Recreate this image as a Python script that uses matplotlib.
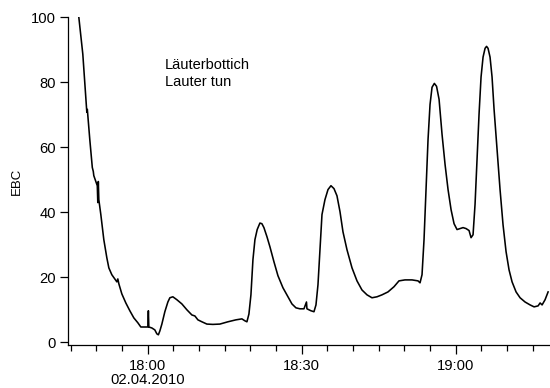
#!/usr/bin/env python3
import datetime as dt

import matplotlib
matplotlib.use('Agg')
import matplotlib.pyplot as plt
import matplotlib.dates as mdates
from matplotlib.ticker import FuncFormatter

plt.rcParams['font.family'] = ['Liberation Sans', 'DejaVu Sans']

# minutes relative to 18:00 on 02.04.2010, EBC values
minutes = [-13.39, -12.61, -11.93, -11.83, -11.73, -11.25, -10.76, -10.57, -10.47, -10.08,
           -9.79, -9.69, -9.59, -9.49, -9.10, -8.52, -7.93, -7.54, -6.96, -6.37,
           -5.98, -5.79, -5.59, -5.01, -4.23, -3.45, -2.67, -1.89, -1.31, -0.53,
           0.06, 0.16, 0.25, 0.84, 1.42, 1.81, 2.11, 2.40, 2.79, 3.37,
           3.96, 4.35, 4.93, 5.71, 6.69, 7.66, 8.64, 9.22, 9.81, 10.59,
           11.56, 12.73, 14.09, 15.65, 17.21, 18.38, 18.97, 19.36, 19.75, 20.14,
           20.53, 20.92, 21.36, 21.89, 22.28, 22.67, 23.26, 23.84, 24.62, 25.40,
           26.37, 27.15, 28.13, 28.91, 29.69, 30.47, 30.96, 31.05, 31.83, 32.42,
           32.81, 33.20, 33.59, 33.98, 34.56, 35.15, 35.73, 36.32, 36.90, 37.49,
           38.07, 38.85, 39.83, 40.80, 41.77, 42.75, 43.72, 44.70, 45.67, 46.84,
           48.01, 48.98, 50.15, 51.52, 52.69, 53.08, 53.47, 53.86, 54.25, 54.64,
           55.03, 55.42, 55.87, 56.30, 56.79, 57.37, 57.96, 58.54, 59.13, 59.71,
           60.29, 60.88, 61.46, 62.05, 62.63, 63.02, 63.41, 63.80, 64.19, 64.58,
           64.97, 65.36, 65.75, 66.04, 66.33, 66.72, 67.11, 67.50, 68.08, 68.67,
           69.25, 69.84, 70.42, 71.01, 71.79, 72.57, 73.54, 74.52, 75.30, 76.08,
           76.47, 76.86, 77.44, 78.03]
ebc = [100.1, 88.7, 73.2, 70.8, 71.7, 62.4, 53.8, 52.6, 51.3, 49.5,
       48.2, 43.0, 49.5, 43.9, 39.3, 31.6, 26.0, 22.9, 20.8, 19.5,
       18.6, 19.5, 18.0, 14.9, 12.1, 9.7, 7.5, 6.0, 4.7, 4.7,
       4.7, 9.7, 4.7, 4.4, 3.8, 2.6, 2.3, 3.5, 5.6, 9.4,
       12.4, 13.7, 14.0, 13.1, 11.8, 10.0, 8.4, 8.1, 6.9, 6.3,
       5.6, 5.5, 5.6, 6.3, 6.9, 7.2, 6.6, 6.3, 8.7, 14.6,
       25.4, 31.6, 34.7, 36.7, 36.5, 35.3, 32.5, 29.4, 24.8, 20.5,
       16.8, 14.6, 11.8, 10.6, 10.3, 10.3, 12.4, 10.3, 9.7, 9.4,
       11.5, 17.7, 28.5, 39.3, 43.9, 47.0, 48.2, 47.3, 45.1, 40.2,
       34.0, 28.5, 22.9, 18.9, 16.1, 14.6, 13.7, 14.0, 14.6, 15.5,
       17.1, 18.9, 19.2, 19.2, 18.9, 18.3, 20.8, 31.6, 47.0, 62.4,
       73.2, 78.5, 79.7, 78.8, 74.8, 64.0, 54.7, 47.0, 40.8, 36.5,
       34.7, 35.0, 35.3, 35.0, 34.4, 32.2, 33.1, 42.5, 56.4, 70.3,
       81.7, 87.8, 90.5, 91.1, 90.5, 87.8, 81.7, 71.8, 59.4, 47.0,
       36.2, 27.9, 22.3, 18.6, 15.5, 13.7, 12.4, 11.5, 10.9, 11.2,
       12.1, 11.5, 13.1, 15.5]

start = dt.datetime(2010, 4, 2, 18, 0)
times = [start + dt.timedelta(minutes=m) for m in minutes]

fig = plt.figure(figsize=(5.5, 3.88), dpi=100)
ax = fig.add_axes([0.1236, 0.1116, 0.8764, 0.8434])
ax.plot(times, ebc, color='black', linewidth=1.15)

ax.set_xlim(start + dt.timedelta(minutes=-15.5), start + dt.timedelta(minutes=78.4))
ax.set_ylim(-0.75, 100)
ax.set_yticks([0, 20, 40, 60, 80, 100])

ax.xaxis.set_major_locator(mdates.MinuteLocator(byminute=[0, 30]))
ax.xaxis.set_minor_locator(mdates.MinuteLocator(byminute=range(0, 60, 5)))


def fmt(x, pos):
    d = mdates.num2date(x)
    if d.hour == 18 and d.minute == 0:
        return d.strftime('%H:%M') + '\n02.04.2010'
    return d.strftime('%H:%M')


ax.xaxis.set_major_formatter(FuncFormatter(fmt))

for side in ['top', 'right']:
    ax.spines[side].set_visible(False)
for side in ['left', 'bottom']:
    ax.spines[side].set_linewidth(0.9)

ax.tick_params(axis='y', which='major', length=5.5, width=0.9, pad=3, labelsize=10.6)
ax.tick_params(axis='x', which='major', length=6.5, width=0.9, pad=3.5, labelsize=10.6)
ax.tick_params(axis='x', which='minor', length=4.5, width=0.9)
for lbl in ax.get_xticklabels():
    lbl.set_linespacing(1.05)

ax.set_ylabel('EBC', fontsize=9.5, labelpad=6)
ax.text(0.201, 0.875, 'Läuterbottich\nLauter tun', transform=ax.transAxes,
        fontsize=10.5, va='top', ha='left', linespacing=1.2)

fig.savefig('out.png', dpi=100)
